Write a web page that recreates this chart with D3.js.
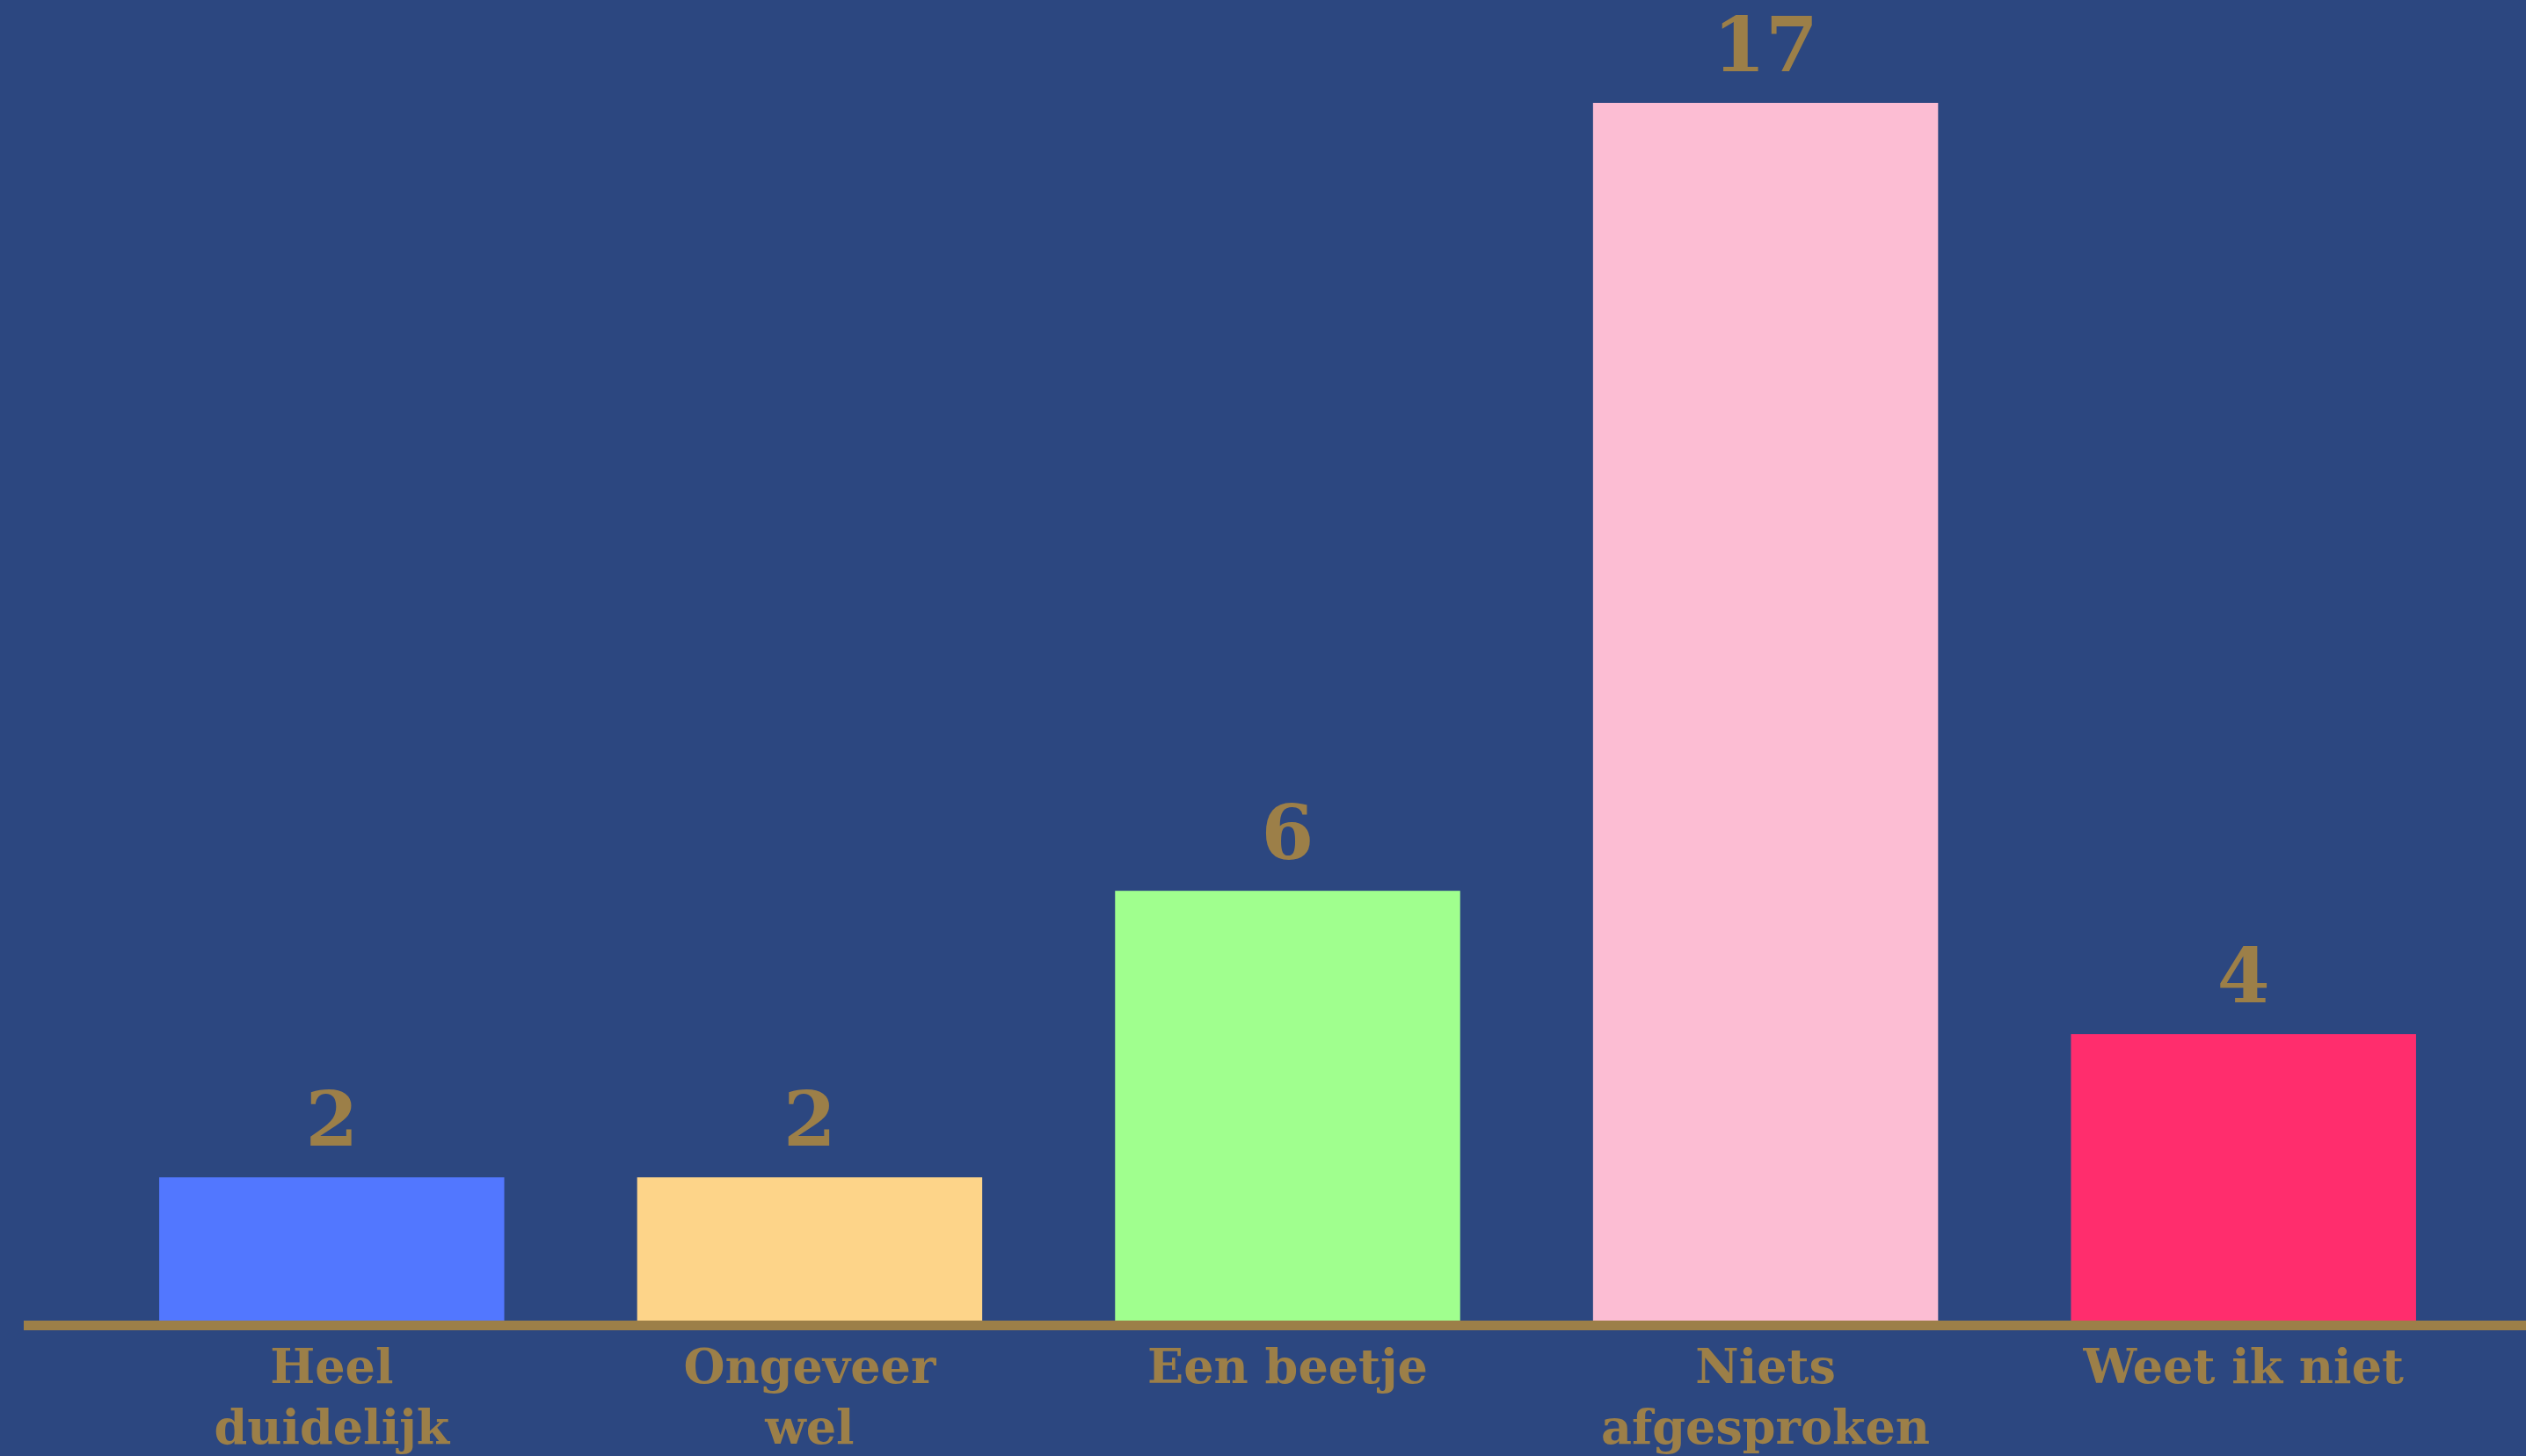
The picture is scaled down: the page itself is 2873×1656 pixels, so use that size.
<!DOCTYPE html>
<html>
<head>
<meta charset="utf-8">
<script src="https://cdn.jsdelivr.net/npm/d3@7"></script>
<style>
  html, body { margin: 0; padding: 0; background: #2c4780; overflow: hidden; }
  svg { display: block; }
</style>
</head>
<body>
<svg id="chart" width="2873" height="1656"></svg>
<script>
const categories = ["Heel duidelijk", "Ongeveer wel", "Een beetje", "Niets afgesproken", "Weet ik niet"];
const labelLines = [["Heel", "duidelijk"], ["Ongeveer", "wel"], ["Een beetje"], ["Niets", "afgesproken"], ["Weet ik niet"]];
const values = [2, 2, 6, 17, 4];
const colors = ["#5277ff", "#fdd489", "#a0ff8e", "#fcbdd3", "#ff2d6d"];

const W = 2873, H = 1656;
const gold = "#9c7f48";
const font = "'DejaVu Serif', serif";

const svg = d3.select("#chart");
svg.append("rect").attr("width", W).attr("height", H).attr("fill", "#2c4780");

const x = d3.scaleBand()
  .domain(categories)
  .range([105.5, 2823.5])
  .paddingInner(0.278)
  .paddingOuter(0.139);

const y = d3.scaleLinear()
  .domain([0, 17])
  .range([1502, 117]);

svg.selectAll("rect.bar")
  .data(categories)
  .join("rect")
  .attr("class", "bar")
  .attr("x", d => x(d))
  .attr("width", x.bandwidth())
  .attr("y", (d, i) => y(values[i]))
  .attr("height", (d, i) => y(0) - y(values[i]))
  .attr("fill", (d, i) => colors[i]);

// baseline axis
const axis = svg.append("g").attr("transform", `translate(0,${y(0)})`)
  .call(d3.axisBottom(x).tickSize(0).tickFormat(""));
axis.select(".domain").remove();
svg.append("line")
  .attr("x1", 27).attr("x2", W)
  .attr("y1", y(0) + 5.5).attr("y2", y(0) + 5.5)
  .attr("stroke", gold).attr("stroke-width", 11);

// value labels
svg.selectAll("text.val")
  .data(categories)
  .join("text")
  .attr("class", "val")
  .attr("x", d => x(d) + x.bandwidth() / 2)
  .attr("y", (d, i) => y(values[i]) - 36)
  .attr("text-anchor", "middle")
  .attr("font-family", font)
  .attr("font-weight", "bold")
  .attr("font-size", 86)
  .attr("fill", gold)
  .text((d, i) => values[i]);

// category labels
const cat = svg.selectAll("text.cat")
  .data(categories)
  .join("text")
  .attr("class", "cat")
  .attr("x", d => x(d) + x.bandwidth() / 2)
  .attr("y", 1573)
  .attr("text-anchor", "middle")
  .attr("font-family", font)
  .attr("font-weight", "bold")
  .attr("font-size", 54)
  .attr("fill", gold);
cat.each(function(d, i) {
  const t = d3.select(this);
  labelLines[i].forEach((ln, j) => {
    t.append("tspan")
      .attr("x", x(d) + x.bandwidth() / 2)
      .attr("dy", j === 0 ? 0 : 69)
      .text(ln);
  });
});
</script>
</body>
</html>
